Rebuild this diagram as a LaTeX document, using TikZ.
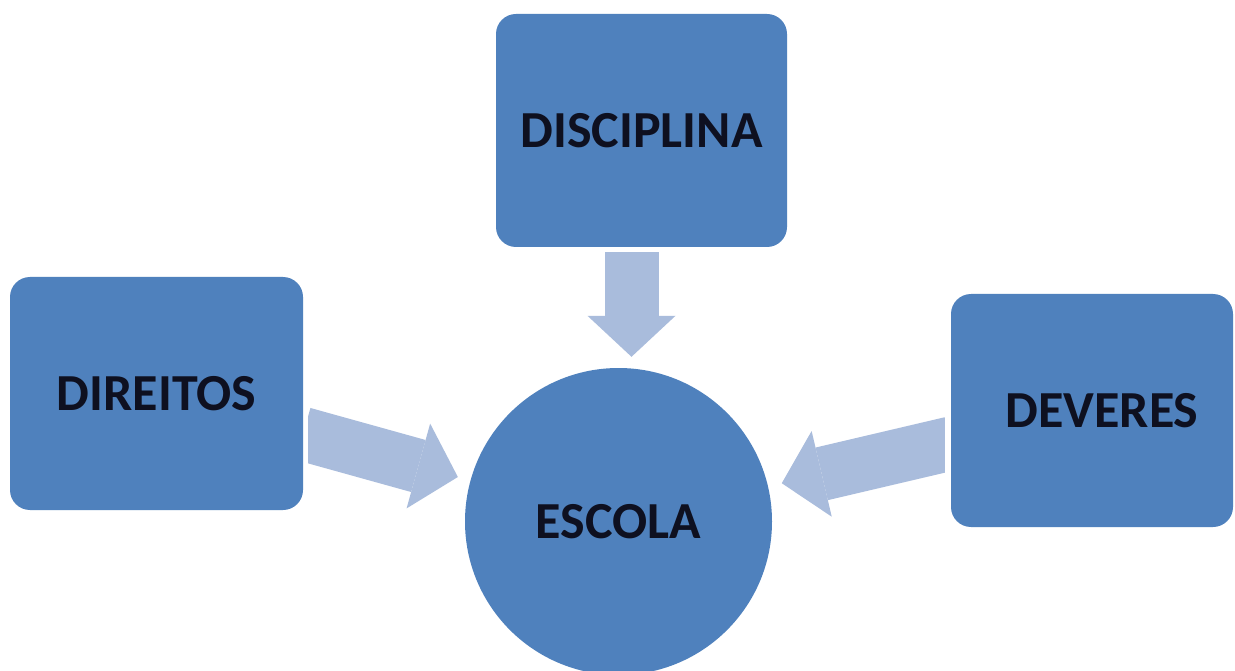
\documentclass[tikz,border=0pt]{standalone}
\usepackage{fontspec}
\setmainfont{Carlito}
\usetikzlibrary{arrows.meta,calc}
\definecolor{boxblue}{HTML}{4F81BD}
\definecolor{arrowblue}{HTML}{A9BCDC}
\definecolor{txt}{HTML}{0E1020}
\begin{document}
\begin{tikzpicture}[x=1pt,y=-1pt,
  box/.style={rectangle, rounded corners=20pt, fill=boxblue, draw=none,
    minimum height=233pt, inner sep=0pt, text=txt,
    font=\fontsize{52}{60}\selectfont\bfseries},
  hub/.style={circle, fill=boxblue, draw=none, minimum size=307pt, inner sep=0pt,
    text=txt, font=\fontsize{52}{60}\selectfont\bfseries},
  blockarrow/.style={draw=arrowblue, line width=54pt,
    -{Triangle[length=41pt,width=88pt,line width=0pt]}}]
\useasboundingbox (0,0) rectangle (1235,671);
\fill[white] (0,0) rectangle (1235,671);

\node[hub] (esc) at (618.5,521.5) {ESCOLA};
\node[box, minimum width=291pt] (disc) at (641.5,130.5) {DISCIPLINA};
\node[box, minimum width=293pt] (dir) at (156.5,393.5) {DIREITOS};
\node[box, minimum width=282pt] (dev) at (1092,410.5) {\hspace*{20pt}DEVERES};

\draw[blockarrow, shorten <=5pt, shorten >=11pt]
  ([xshift=-10pt]disc.south) -- ([xshift=-10pt]disc.south |- esc.north);
\begin{scope}
  \clip ([xshift=5pt]dir.east |- 0,0) rectangle (esc.center |- 0,671);
  \draw[blockarrow, shorten >=13pt] (dir) -- (esc);
\end{scope}
\begin{scope}
  \clip ([xshift=-6pt]dev.west |- 0,0) rectangle (esc.center |- 0,671);
  \draw[blockarrow, shorten >=14pt] (dev) -- (esc);
\end{scope}
\end{tikzpicture}
\end{document}
